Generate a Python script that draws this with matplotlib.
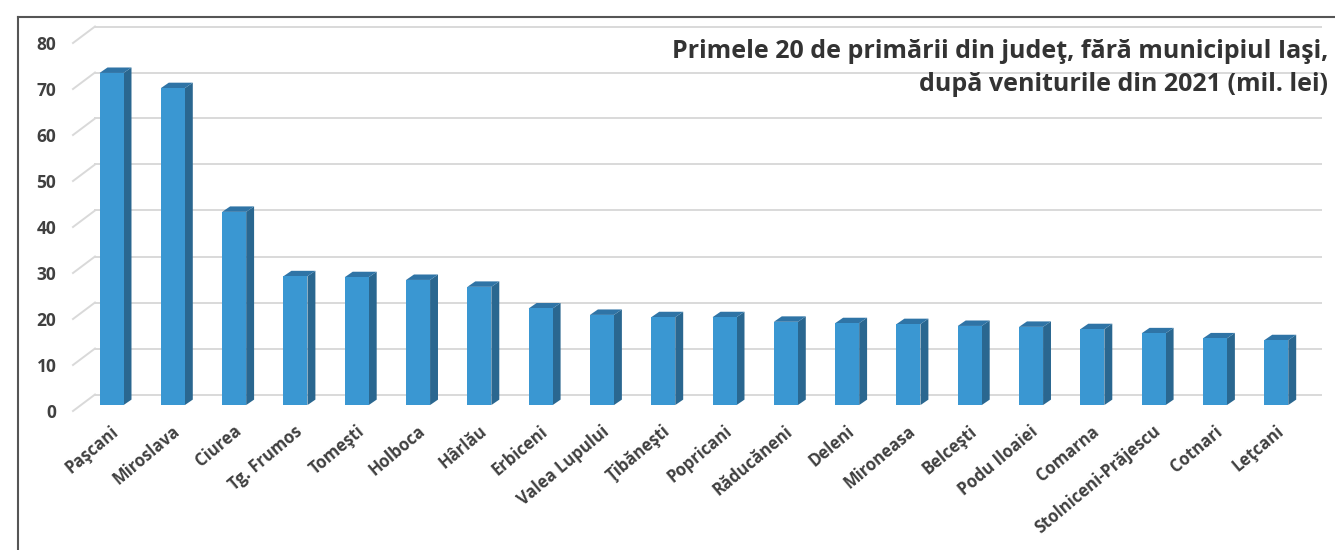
import numpy as np
import matplotlib
matplotlib.use('Agg')
import matplotlib.pyplot as plt
from matplotlib.patches import Polygon
from matplotlib.lines import Line2D
from matplotlib.transforms import ScaledTranslation

plt.rcParams['font.family'] = ['Open Sans', 'DejaVu Sans']

# Data (mil. lei, 2021)
localities = ['Paşcani', 'Miroslava', 'Ciurea', 'Tg. Frumos', 'Tomeşti', 'Holboca',
              'Hârlău', 'Erbiceni', 'Valea Lupului', 'Ţibăneşti', 'Popricani',
              'Răducăneni', 'Deleni', 'Mironeasa', 'Belceşti', 'Podu Iloaiei',
              'Comarna', 'Stolniceni-Prăjescu', 'Cotnari', 'Leţcani']
revenues = [72.2, 68.9, 42.0, 28.0, 27.8, 27.2, 25.7, 21.0, 19.6, 19.1,
            19.1, 18.1, 17.8, 17.6, 17.2, 17.0, 16.5, 15.6, 14.5, 14.1]
y_ticks = list(range(0, 90, 10))
title_lines = ['Primele 20 de primării din judeţ, fără municipiul Iaşi,',
               'după veniturile din 2021 (mil. lei)']

W, H, DPI = 1335, 550, 100
fig = plt.figure(figsize=(W / DPI, H / DPI), dpi=DPI)

# axes = front plane of the pseudo-3D chart
ax_l, ax_r, ax_b, ax_t = 73, 1299, 411, 43
ax = fig.add_axes([ax_l / W, (H - ax_b) / H, (ax_r - ax_l) / W, (ax_b - ax_t) / H])
n = len(localities)
ax.set_xlim(-0.5, n - 0.5)
ax.set_ylim(0, 80)
for s in ax.spines.values():
    s.set_visible(False)

# pixel -> data conversion
px_x = (ax_r - ax_l) / n
px_y = (ax_b - ax_t) / 80.0
wall_dx, wall_dy = 22 / px_x, 16.5 / px_y   # depth of the back wall
bar_off_x, bar_off_y = 0.36 * wall_dx, 0.36 * wall_dy
bar_dx, bar_dy = 0.36 * wall_dx, 0.33 * wall_dy
bar_w = 24 / px_x

grid_col = '#d9d9d9'
for v in y_ticks:
    ax.plot([-0.5 + wall_dx, n - 0.5 + wall_dx], [v + wall_dy, v + wall_dy],
            color=grid_col, lw=1.4, clip_on=False, zorder=0)
    ax.plot([-0.5, -0.5 + wall_dx], [v, v + wall_dy],
            color=grid_col, lw=1.4, clip_on=False, zorder=0)

x = np.arange(n)
front_col = '#3a97d2'
side_col = '#2a6790'
top_col = '#2f74a6'
bars = ax.bar(x + bar_off_x, revenues, width=bar_w, bottom=bar_off_y,
              color=front_col, edgecolor='none', zorder=3, clip_on=False)
for rect, v in zip(bars, revenues):
    xl = rect.get_x()
    xr = xl + rect.get_width()
    y0 = rect.get_y()
    y1 = y0 + v
    side = Polygon([(xr, y0), (xr, y1), (xr + bar_dx, y1 + bar_dy), (xr + bar_dx, y0 + bar_dy)],
                   closed=True, facecolor=side_col, edgecolor='none', zorder=2, clip_on=False)
    top = Polygon([(xl, y1), (xr, y1), (xr + bar_dx, y1 + bar_dy), (xl + bar_dx, y1 + bar_dy)],
                  closed=True, facecolor=top_col, edgecolor='none', zorder=2, clip_on=False)
    ax.add_patch(side)
    ax.add_patch(top)

ax.set_yticks(y_ticks)
ax.set_yticklabels([str(v) for v in y_ticks], fontsize=12.5, fontweight='bold', color='#404040')
ax.tick_params(axis='y', length=0, pad=12)
ax.set_xticks(x)
ax.set_xticklabels(localities, rotation=40, ha='right', rotation_mode='anchor',
                   fontsize=12, fontweight='bold', color='#404040')
ax.tick_params(axis='x', length=0, pad=8)
shift = ScaledTranslation(7 / DPI, 0, fig.dpi_scale_trans)
for lbl in ax.get_xticklabels():
    lbl.set_transform(lbl.get_transform() + shift)

# title, right aligned in the top right corner
fig.text(1328 / W, 1 - 58 / H, title_lines[0], ha='right', va='baseline',
         fontsize=18, fontweight='bold', color='#333333')
fig.text(1328 / W, 1 - 91 / H, title_lines[1], ha='right', va='baseline',
         fontsize=18, fontweight='bold', color='#333333')

# frame: only left and top edges are visible
fig.add_artist(Line2D([18 / W, 18 / W], [0, 1 - 17 / H], color='#555555', lw=1.5))
fig.add_artist(Line2D([18 / W, 1], [1 - 17 / H, 1 - 17 / H], color='#555555', lw=1.5))

fig.savefig('out.png', dpi=DPI)
